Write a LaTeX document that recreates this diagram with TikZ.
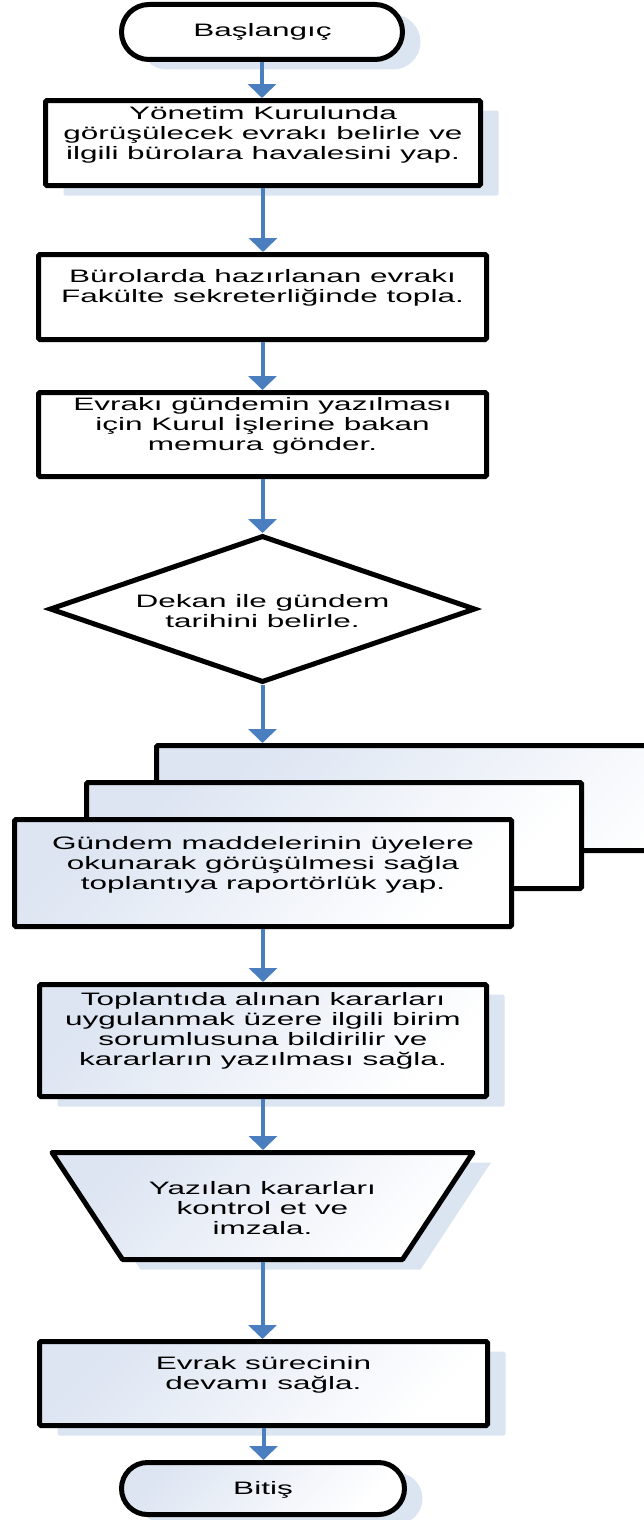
\documentclass[tikz,border=0pt]{standalone}
\usepackage{fontspec}
\setmainfont[FakeStretch=1.75]{Liberation Sans}
\usetikzlibrary{arrows.meta,shapes.geometric,shadows}
\definecolor{arrblue}{RGB}{74,126,190}
\definecolor{shadowblue}{RGB}{219,228,241}
\definecolor{gradblue}{RGB}{221,229,242}
\tikzset{
  shp/.style={draw=black, line width=5pt, inner sep=0pt, outer sep=2.5pt},
  boxw/.style={shp, rectangle, rounded corners=1.5pt, fill=white},
  grad/.style={top color=gradblue, bottom color=white, shading angle=45},
  bshadow/.style={general shadow={fill=shadowblue, shadow xshift=18pt, shadow yshift=-10pt}},
  txt/.style={font=\fontsize{18}{20}\selectfont, align=center, inner sep=0pt},
  arr/.style={draw=arrblue, line width=4pt, -{Triangle[width=28pt,length=14pt]}},
}
\begin{document}
\begin{tikzpicture}[x=1pt,y=-1pt]
\useasboundingbox (0,0) rectangle (643,1520);
% start
\node[shp, bshadow, fill=white, rectangle, rounded corners=27.5pt, minimum width=281pt, minimum height=55pt] (start) at (262,32) {};
\node[txt] (tstart) at (262.5,32) {Başlangıç};
% box 1
\node[boxw, bshadow, minimum width=435pt, minimum height=85pt] (b1) at (263,143) {};
\node[txt] (t1) at (263,135) {Yönetim Kurulunda\\görüşülecek evrakı belirle ve\\ilgili bürolara havalesini yap.};
% box 2
\node[boxw, minimum width=448pt, minimum height=85pt] (b2) at (262.5,297) {};
\node[txt] (t2) at (262.5,288) {Bürolarda hazırlanan evrakı\\Fakülte sekreterliğinde topla.};
% box 3
\node[boxw, minimum width=448pt, minimum height=84pt] (b3) at (262.5,434.5) {};
\node[txt] (t3) at (262.5,426) {Evrakı gündemin yazılması\\için Kurul İşlerine bakan\\memura gönder.};
% diamond
\node[shp, diamond, fill=white, minimum width=426pt, minimum height=147pt] (dia) at (262.5,609) {};
\node[txt] (tdia) at (262.5,611) {Dekan ile gündem\\tarihini belirle.};
% multi document
\node[shp, rectangle, rounded corners=1.5pt, grad, minimum width=603pt, minimum height=105pt] (mb) at (458,798) {};
\node[shp, rectangle, rounded corners=1.5pt, grad, minimum width=495pt, minimum height=106pt] (mm) at (334,835.5) {};
\node[shp, rectangle, rounded corners=1.5pt, grad, minimum width=497pt, minimum height=107pt] (mf) at (263,873) {};
\node[txt] (tmf) at (263,865) {Gündem maddelerinin üyelere\\okunarak görüşülmesi sağla\\toplantıya raportörlük yap.};
% box 5
\node[shp, rectangle, rounded corners=1.5pt, grad, bshadow, minimum width=447pt, minimum height=112pt] (b5) at (263,1040.5) {};
\node[txt] (t5) at (263,1031) {Toplantıda alınan kararları\\uygulanmak üzere  ilgili birim\\sorumlusuna  bildirilir ve\\kararların yazılması sağla.};
% trapezoid
\coordinate (trtop) at (262.5,1150);
\coordinate (trbot) at (262.5,1262);
\fill[shadowblue] (70,1162.5) -- (491,1162.5) -- (420.5,1269.5) -- (140.5,1269.5) -- cycle;
\path[draw=black, line width=5pt, line join=round, grad] (52,1152.5) -- (473,1152.5) -- (402.5,1259.5) -- (122.5,1259.5) -- cycle;
\node[txt] (ttrap) at (262.5,1208) {Yazılan kararları\\kontrol et ve\\imzala.};
% box 6
\node[shp, rectangle, rounded corners=1.5pt, grad, bshadow, minimum width=448pt, minimum height=84pt] (b6) at (263.5,1383.5) {};
\node[txt] (t6) at (263.5,1375) {Evrak sürecinin\\devamı sağla.};
% end
\node[shp, rectangle, rounded corners=26pt, grad, bshadow, minimum width=283pt, minimum height=52pt] (end) at (263,1488.5) {};
\node[txt] (tend) at (263,1490) {Bitiş};
% connectors
\draw[arr] (start.south) -- (start.south |- b1.north);
\draw[arr] (b1.south) -- (b1.south |- b2.north);
\draw[arr] (b2.south) -- (b2.south |- b3.north);
\draw[arr] (b3.south) -- (b3.south |- dia.north);
\draw[arr] (dia.south) -- (dia.south |- mb.north);
\draw[arr] (mf.south) -- (mf.south |- b5.north);
\draw[arr] (b5.south) -- (b5.south |- trtop);
\draw[arr] (trbot) -- (trbot |- b6.north);
\draw[arr] (b6.south) -- (b6.south |- end.north);
\end{tikzpicture}
\end{document}
